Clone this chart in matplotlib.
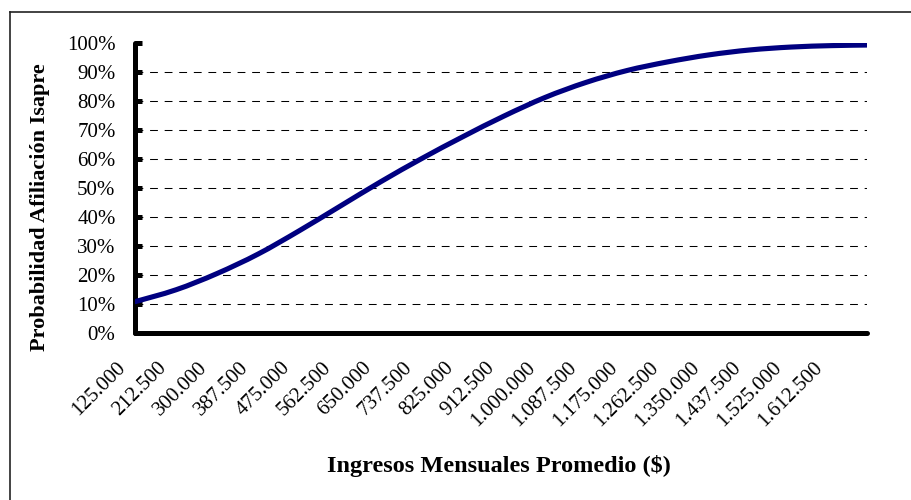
import matplotlib
matplotlib.use("Agg")
import matplotlib.pyplot as plt
from matplotlib.lines import Line2D
from matplotlib.path import Path
from matplotlib.patches import PathPatch
from matplotlib.transforms import ScaledTranslation

plt.rcParams['font.family'] = ['Liberation Serif', 'DejaVu Serif']

# Data
income = [125000, 212500, 300000, 387500, 475000, 562500, 650000, 737500,
          825000, 912500, 1000000, 1087500, 1175000, 1262500, 1350000,
          1437500, 1525000, 1612500, 1687500]
prob = [0.108, 0.149, 0.205, 0.272, 0.352, 0.437, 0.522, 0.602,
        0.677, 0.748, 0.812, 0.864, 0.905, 0.935, 0.959,
        0.976, 0.986, 0.991, 0.993]
tick_values = [125000, 212500, 300000, 387500, 475000, 562500, 650000, 737500,
               825000, 912500, 1000000, 1087500, 1175000, 1262500, 1350000,
               1437500, 1525000, 1612500]
tick_labels = [f"{v:,}".replace(",", ".") for v in tick_values]
y_ticks = [i / 10 for i in range(11)]
y_labels = [f"{int(round(v * 100))}%" for v in y_ticks]

W, H = 911, 500
fig = plt.figure(figsize=(W / 100, H / 100), dpi=100)
ax = fig.add_axes([135 / W, 1 - 333 / H, (867 - 135) / W, (333 - 43) / H])

# gridlines 10%..90%
for v in y_ticks[1:-1]:
    ax.axhline(v, color='black', linewidth=0.75, linestyle=(0, (7.5, 6.5)), zorder=1)

# smoothed line (Excel-style smoothing) through the read points
pts = list(zip(income, prob))
n = len(pts)
verts = [pts[0]]
codes = [Path.MOVETO]
for i in range(n - 1):
    p0 = pts[i - 1] if i > 0 else pts[i]
    p1 = pts[i]
    p2 = pts[i + 1]
    p3 = pts[i + 2] if i + 2 < n else pts[i + 1]
    c1 = (p1[0] + (p2[0] - p0[0]) / 6, p1[1] + (p2[1] - p0[1]) / 6)
    c2 = (p2[0] - (p3[0] - p1[0]) / 6, p2[1] - (p3[1] - p1[1]) / 6)
    verts += [c1, c2, p2]
    codes += [Path.CURVE4] * 3
curve = PathPatch(Path(verts, codes), fill=False, edgecolor='#000080',
                  linewidth=3.7, capstyle='round', joinstyle='round', zorder=3)
ax.add_patch(curve)

ax.set_xlim(income[0], income[-1])
ax.set_ylim(0, 1)
ax.set_yticks(y_ticks)
ax.set_yticklabels(y_labels, fontsize=15)
ax.set_xticks(tick_values)
ax.set_xticklabels(tick_labels, fontsize=15, rotation=45, ha='right', va='center',
                   rotation_mode='anchor')

for s in ['top', 'right']:
    ax.spines[s].set_visible(False)
for s in ['left', 'bottom']:
    ax.spines[s].set_linewidth(3.6)
    ax.spines[s].set_color('black')
    ax.spines[s].set_capstyle('round')

ax.tick_params(axis='y', direction='in', length=5, width=3.6, pad=14, colors='black')
ax.tick_params(axis='x', length=0, pad=23)

offset = ScaledTranslation(-12 / 100, 0, fig.dpi_scale_trans)
for lab in ax.get_xticklabels():
    lab.set_transform(lab.get_transform() + offset)

fig.text(40 / W, 1 - 207 / H, 'Probabilidad Afiliación Isapre', rotation=90,
         ha='center', va='center', fontsize=16, fontweight='bold')
fig.text(499 / W, 1 - 466 / H, 'Ingresos Mensuales Promedio ($)',
         ha='center', va='center', fontsize=17.5, fontweight='bold')

# outer frame (left and top edges visible)
fig.add_artist(Line2D([10 / W, 10 / W], [0, 1 - 12 / H], transform=fig.transFigure,
                      color='#222222', linewidth=1.2))
fig.add_artist(Line2D([10 / W, 1], [1 - 12 / H, 1 - 12 / H], transform=fig.transFigure,
                      color='#222222', linewidth=1.2))

fig.savefig('out.png', dpi=100)
